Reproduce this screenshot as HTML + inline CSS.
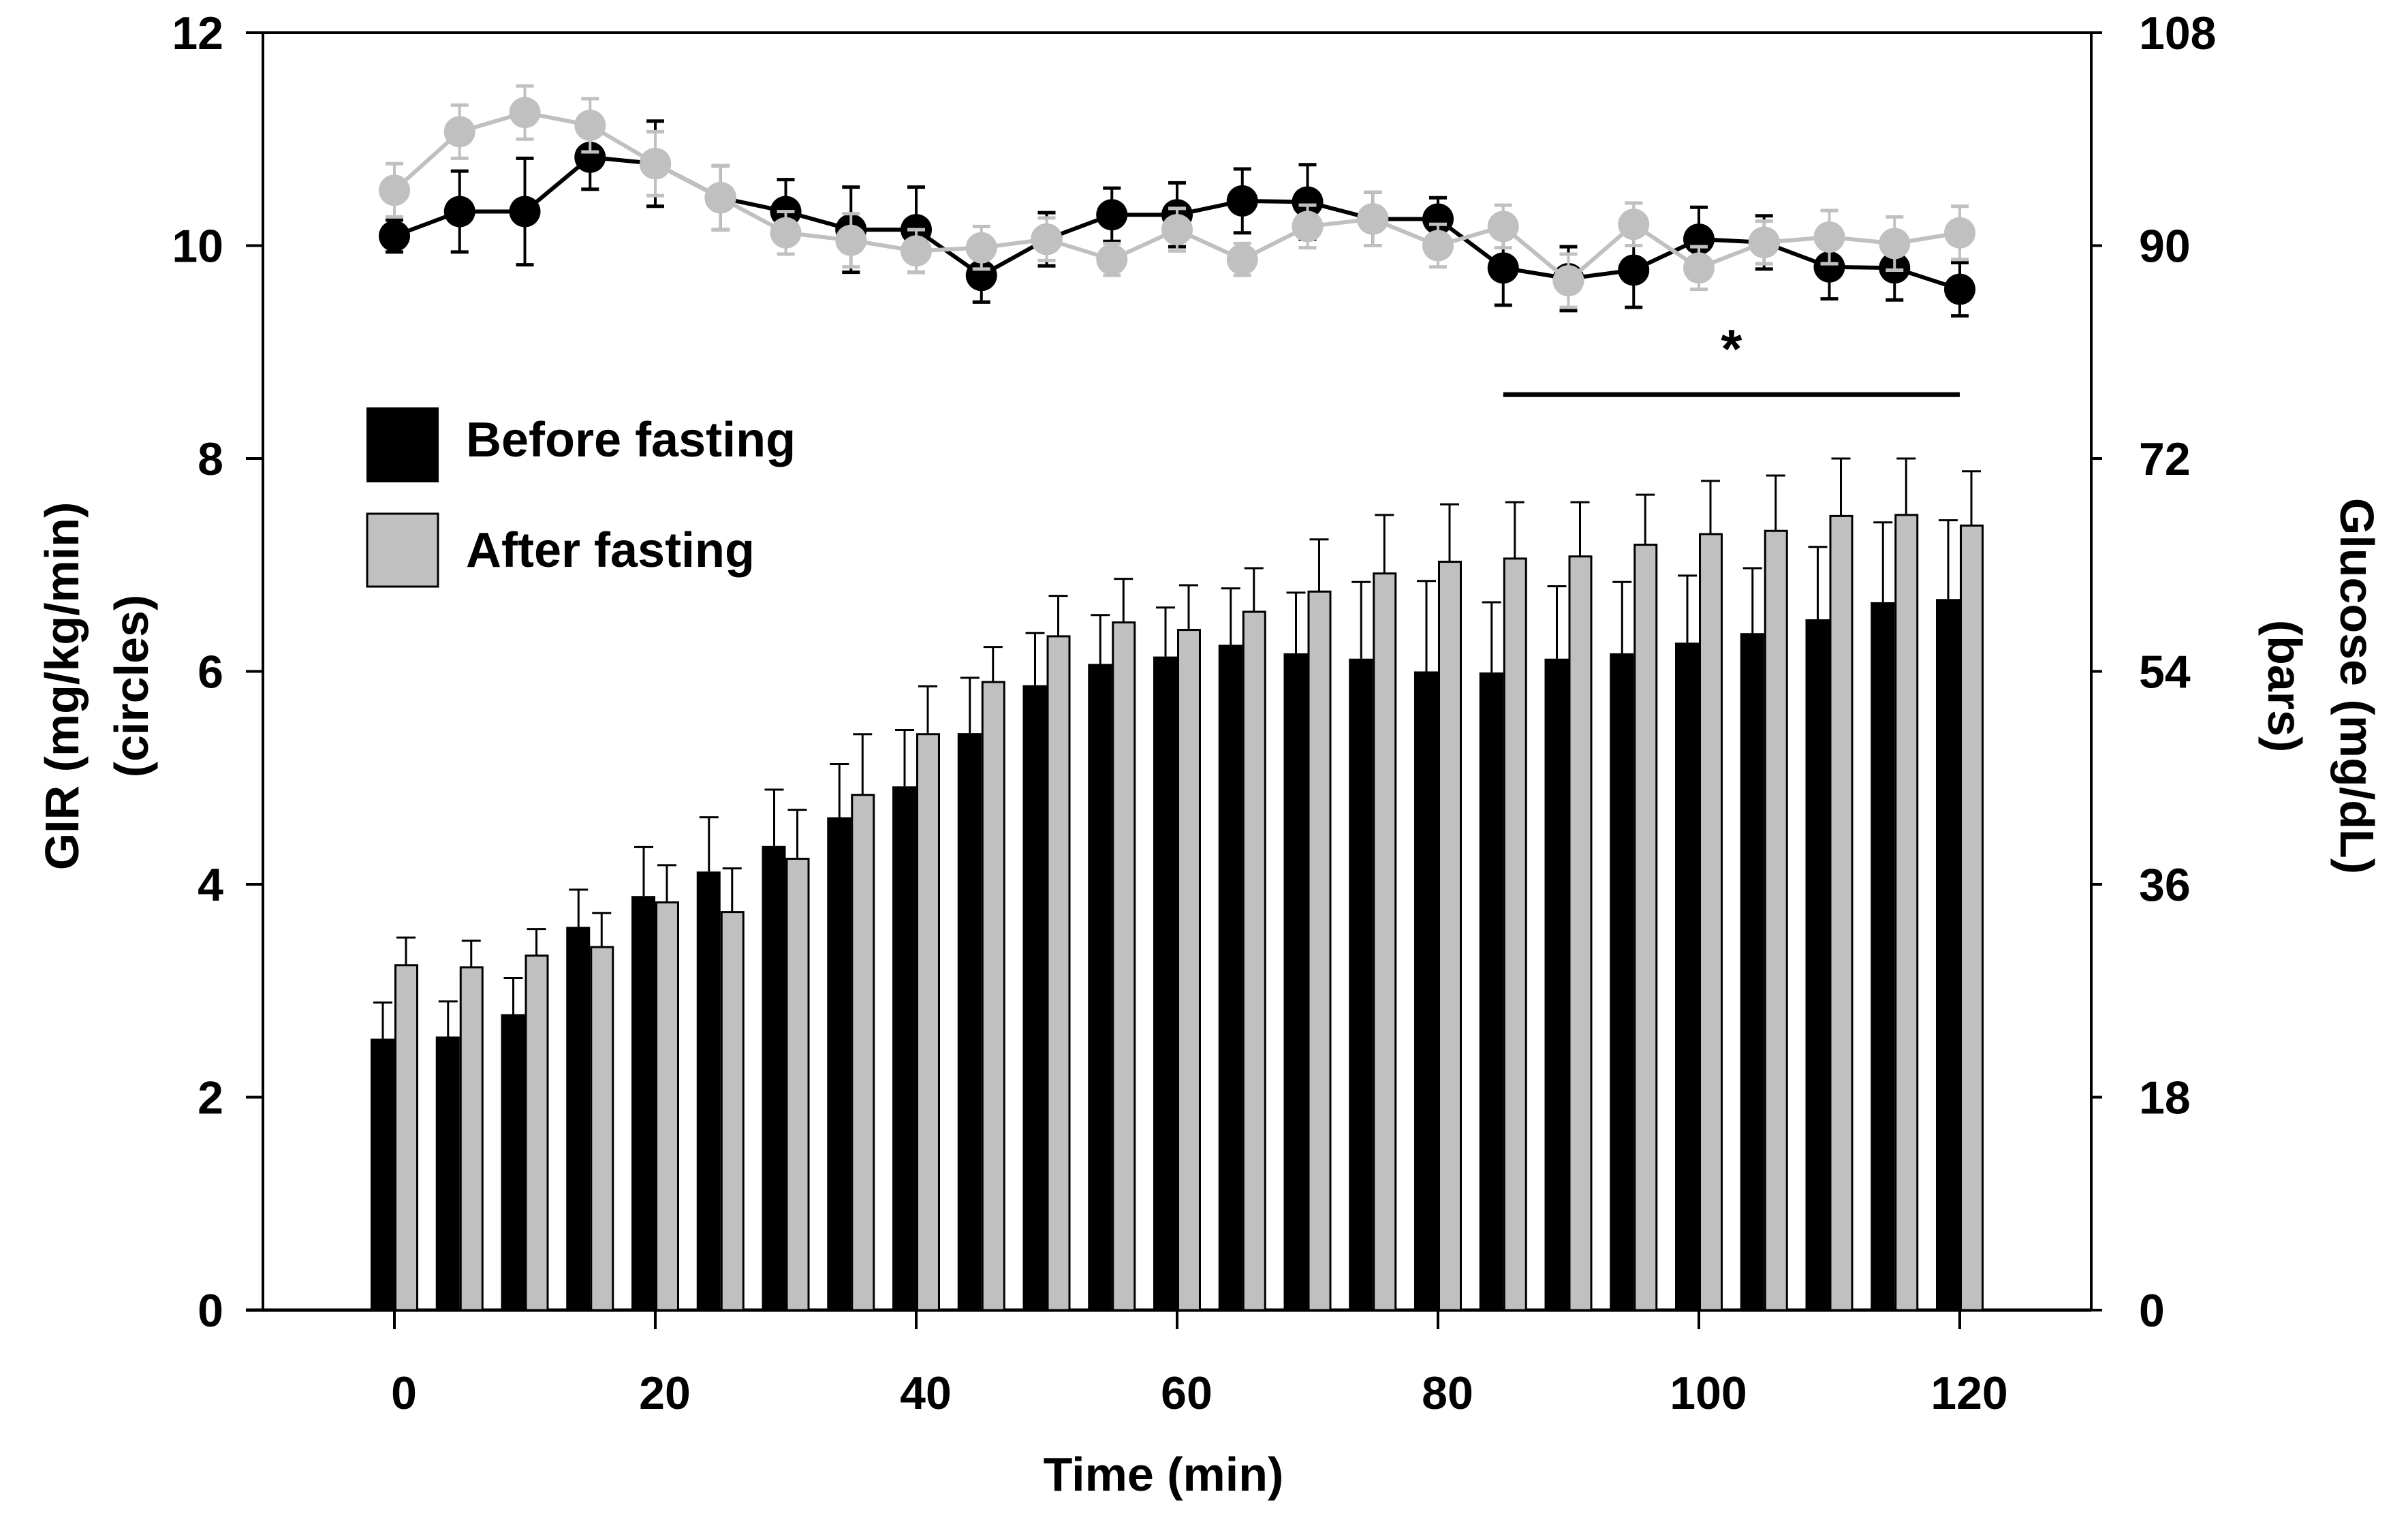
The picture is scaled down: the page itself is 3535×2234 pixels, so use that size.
<!DOCTYPE html>
<html><head><meta charset="utf-8"><style>
html,body{margin:0;padding:0;background:#fff}
svg{display:block;font-family:"Liberation Sans",sans-serif;font-weight:bold}
</style></head><body>
<svg id="chart" width="3535" height="2234" viewBox="0 0 3535 2234" xmlns="http://www.w3.org/2000/svg">
<g id="axes"></g><g id="bars"></g><g id="lines"></g><g id="legend"></g>
</svg>
<script>
const times=[0,5,10,15,20,25,30,35,40,45,50,55,60,65,70,75,80,85,90,95,100,105,110,115,120];
const barBefore=[2.55,2.57,2.78,3.6,3.89,4.12,4.36,4.63,4.92,5.42,5.87,6.07,6.14,6.25,6.17,6.12,6.0,5.99,6.12,6.17,6.27,6.36,6.49,6.65,6.68];
const barBeforeErr=[0.34,0.33,0.34,0.35,0.46,0.51,0.53,0.5,0.53,0.52,0.49,0.46,0.46,0.53,0.57,0.72,0.85,0.66,0.68,0.67,0.63,0.61,0.68,0.75,0.74];
const barAfter=[3.24,3.22,3.33,3.41,3.83,3.74,4.24,4.84,5.41,5.9,6.33,6.46,6.39,6.56,6.75,6.92,7.03,7.06,7.08,7.19,7.29,7.32,7.46,7.47,7.37];
const barAfterErr=[0.26,0.25,0.25,0.32,0.35,0.41,0.46,0.57,0.45,0.33,0.38,0.41,0.42,0.41,0.49,0.55,0.54,0.53,0.51,0.47,0.5,0.52,0.54,0.53,0.51];
const circBefore=[10.09,10.32,10.32,10.83,10.77,10.45,10.32,10.15,10.15,9.72,10.06,10.29,10.29,10.42,10.41,10.25,10.25,9.79,9.69,9.77,10.06,10.03,9.8,9.79,9.59];
const circBeforeErr=[0.15,0.38,0.5,0.3,0.4,0.3,0.3,0.4,0.4,0.25,0.25,0.25,0.3,0.3,0.35,0.25,0.2,0.35,0.3,0.35,0.3,0.25,0.3,0.3,0.25];
const circAfter=[10.52,11.07,11.25,11.13,10.77,10.45,10.12,10.05,9.95,9.98,10.06,9.87,10.15,9.87,10.18,10.25,10.0,10.18,9.67,10.2,9.79,10.03,10.08,10.02,10.12];
const circAfterErr=[0.25,0.25,0.25,0.25,0.3,0.3,0.2,0.25,0.2,0.2,0.2,0.15,0.2,0.15,0.2,0.25,0.2,0.2,0.25,0.2,0.2,0.2,0.25,0.25,0.25];
const leftTicks=[0,2,4,6,8,10,12];
const rightTicks=[0,18,36,54,72,90,108];
const xTicks=[0,20,40,60,80,100,120];

const NS="http://www.w3.org/2000/svg";
const X0=579,XS=19.15,Y0=1923,YS=156.25,RS=1875/108,LA=386,RA=3070,TOP=48;
const xs=t=>X0+t*XS, yl=v=>Y0-v*YS, yr=v=>Y0-v*RS;
function mk(tag,attrs,parent,txt){const e=document.createElementNS(NS,tag);for(const k in attrs)e.setAttribute(k,attrs[k]);if(txt!==undefined)e.textContent=txt;parent.appendChild(e);return e;}
const axes=document.getElementById('axes'),bars=document.getElementById('bars'),lines=document.getElementById('lines'),leg=document.getElementById('legend');
let e;
e=mk('line',{x1:LA,y1:TOP,x2:RA+16,y2:TOP,stroke:'#000','stroke-width':4},axes);

e=mk('line',{x1:LA,y1:TOP,x2:LA,y2:Y0,stroke:'#000','stroke-width':4},axes);

e=mk('line',{x1:RA,y1:TOP,x2:RA,y2:Y0,stroke:'#000','stroke-width':4},axes);

e=mk('line',{x1:LA-25,y1:Y0,x2:RA,y2:Y0,stroke:'#000','stroke-width':5},axes);

leftTicks.forEach(v=>{
  const y=yl(v);
  e=mk('line',{x1:LA-25,y1:y,x2:LA,y2:y,stroke:'#000','stroke-width':4},axes);
  
  e=mk('text',{x:328,y:y+24,'text-anchor':'end','font-size':68},axes,String(v));
  
});
rightTicks.forEach(v=>{
  const y=yr(v);
  e=mk('line',{x1:RA,y1:y,x2:RA+16,y2:y,stroke:'#000','stroke-width':4},axes);
  
  e=mk('text',{x:3140,y:y+24,'text-anchor':'start','font-size':68},axes,String(v));
  
});
xTicks.forEach(v=>{
  const x=xs(v);
  e=mk('line',{x1:x,y1:Y0,x2:x,y2:Y0+28,stroke:'#000','stroke-width':4},axes);
  
  e=mk('text',{x:x+14,y:2068,'text-anchor':'middle','font-size':68},axes,String(v));
  
});
e=mk('text',{x:1708,y:2188,'text-anchor':'middle','font-size':70},axes,'Time (min)');

e=mk('text',{transform:'translate(115,1007) rotate(-90)','text-anchor':'middle','font-size':70},axes,'GIR (mg/kg/min)');

e=mk('text',{transform:'translate(217,1007) rotate(-90)','text-anchor':'middle','font-size':70},axes,'(circles)');

e=mk('text',{transform:'translate(3436,1007) rotate(90)','text-anchor':'middle','font-size':70},axes,'Glucose (mg/dL)');

e=mk('text',{transform:'translate(3330,1007) rotate(90)','text-anchor':'middle','font-size':70},axes,'(bars)');


function errbar(g,x,yTop,yBase,color,w){
  mk('line',{x1:x,y1:yBase,x2:x,y2:yTop,stroke:color,'stroke-width':w},g);
  mk('line',{x1:x-14,y1:yTop,x2:x+14,y2:yTop,stroke:color,'stroke-width':w},g);
}
times.forEach((t,i)=>{
  const x=xs(t);
  let g=mk('g',{},bars);
  
  errbar(g,x-17,yl(barBefore[i]+barBeforeErr[i]),yl(barBefore[i]),'#000',3);
  mk('rect',{x:x-35,y:yl(barBefore[i]),width:35,height:Y0-yl(barBefore[i]),fill:'#000'},g);
  g=mk('g',{},bars);
  
  errbar(g,x+17,yl(barAfter[i]+barAfterErr[i]),yl(barAfter[i]),'#000',3);
  mk('rect',{x:x+1.5,y:yl(barAfter[i]),width:32,height:Y0-yl(barAfter[i]),fill:'#c0c0c0',stroke:'#000','stroke-width':3},g);
});
function series(vals,errs,color,name){
  const g=mk('g',{},lines);
  
  times.forEach((t,i)=>{
    const x=xs(t);
    mk('line',{x1:x,y1:yl(vals[i]-errs[i]),x2:x,y2:yl(vals[i]+errs[i]),stroke:color,'stroke-width':4},g);
    mk('line',{x1:x-13,y1:yl(vals[i]+errs[i]),x2:x+13,y2:yl(vals[i]+errs[i]),stroke:color,'stroke-width':5},g);
    mk('line',{x1:x-13,y1:yl(vals[i]-errs[i]),x2:x+13,y2:yl(vals[i]-errs[i]),stroke:color,'stroke-width':5},g);
  });
  mk('polyline',{points:times.map((t,i)=>xs(t)+','+yl(vals[i])).join(' '),fill:'none',stroke:color,'stroke-width':6},g);
  times.forEach((t,i)=>{
    const c=mk('circle',{cx:xs(t),cy:yl(vals[i]),r:23,fill:color},g);
    
    
  });
}
series(circBefore,circBeforeErr,'#000','circles-before');
series(circAfter,circAfterErr,'#c0c0c0','circles-after');
e=mk('line',{x1:xs(85),y1:yl(8.6),x2:xs(120),y2:yl(8.6),stroke:'#000','stroke-width':7},lines);

e=mk('text',{x:xs(102.5),y:yl(8.6)-40,'text-anchor':'middle','font-size':80},lines,'*');


e=mk('rect',{x:538,y:598,width:106,height:110,fill:'#000'},leg);

e=mk('text',{x:684,y:670,'font-size':72},leg,'Before fasting');

e=mk('rect',{x:539,y:754,width:104,height:107,fill:'#c0c0c0',stroke:'#000','stroke-width':3},leg);

e=mk('text',{x:684,y:832,'font-size':72},leg,'After fasting');

</script>
</body></html>
